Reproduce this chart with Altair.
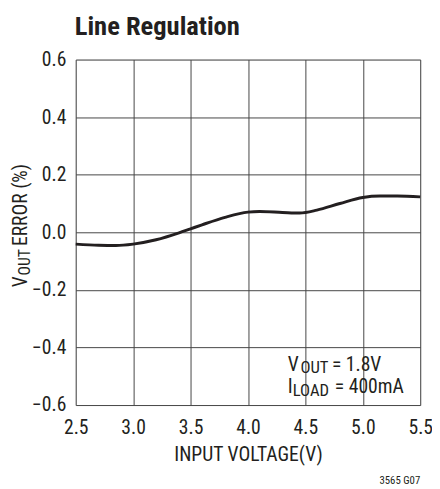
import altair as alt
import pandas as pd

# Data
vin = [2.5, 2.7, 2.85, 3.0, 3.2, 3.4, 3.5, 3.6, 3.8, 4.0, 4.1, 4.3, 4.45, 4.6, 4.8, 5.0, 5.15, 5.3, 5.5]
err = [-0.041, -0.045, -0.046, -0.041, -0.026, -0.002, 0.012, 0.026, 0.052, 0.070, 0.072, 0.069, 0.067, 0.077, 0.100, 0.121, 0.126, 0.126, 0.123]

x_ticks = [2.5, 3.0, 3.5, 4.0, 4.5, 5.0, 5.5]
y_ticks = [-0.6, -0.4, -0.2, 0.0, 0.2, 0.4, 0.6]

FONT = "Liberation Sans Narrow, Arial Narrow, Roboto Condensed, DejaVu Sans Condensed, sans-serif"
INK = "#231f20"

df = pd.DataFrame({"vin": vin, "err": err})
one = pd.DataFrame({"k": [0]})

W, H = 351, 352

line = alt.Chart(df).mark_line(color=INK, strokeWidth=3, interpolate="monotone").encode(
    x=alt.X("vin:Q", scale=alt.Scale(domain=[2.5, 5.5], nice=False, zero=False),
            axis=alt.Axis(values=x_ticks, format=".1f", title="INPUT VOLTAGE(V)",
                          ticks=False, labelPadding=13, titlePadding=8, domain=False,
                          labelFlush=False,
                          gridColor="#444", gridWidth=1, gridOpacity=1,
                          labelFont=FONT, labelFontSize=20, labelColor=INK,
                          titleFont=FONT, titleFontSize=20, titleFontWeight="normal", titleColor=INK)),
    y=alt.Y("err:Q", scale=alt.Scale(domain=[-0.6, 0.6], nice=False, zero=False),
            axis=alt.Axis(values=y_ticks, format=".1f", title=None,
                          ticks=False, labelPadding=10, domain=False,
                          labelFlush=False,
                          gridColor="#444", gridWidth=1, gridOpacity=1,
                          labelFont=FONT, labelFontSize=20, labelColor=INK)),
)


def txt(s, x, y, size, angle=0, align="left", weight="normal"):
    m = alt.Chart(one).mark_text(text=s, font=FONT, fontSize=size, color=INK, align=align,
                                 baseline="alphabetic", fontWeight=weight, angle=angle)
    return m.encode(x=alt.value(x), y=alt.value(y))


layers = [
    line,
    # title
    txt("Line Regulation", -1, -25, 27, weight="bold"),
    # y axis title, rotated, with subscript
    txt("V", -50, 232, 20, angle=270),
    txt("OUT", -47, 220, 16, angle=270),
    txt("ERROR (%)", -50, 190, 20, angle=270),
    # annotation
    txt("V", 216, 317, 20),
    txt("OUT", 229, 319, 17),
    txt("= 1.8V", 261, 317, 20),
    txt("I", 216, 340, 20),
    txt("LOAD", 221, 343, 17),
    txt("= 400mA", 264, 340, 20),
    # figure code
    txt("3565 G07", 351, 432, 11, align="right"),
]

chart = alt.layer(*layers).properties(
    width=W, height=H,
    autosize=alt.AutoSizeParams(type="none"),
    padding={"left": 69, "top": 48, "right": 12, "bottom": 81},
).configure_view(
    stroke=INK, strokeWidth=2
).configure(background="white")

chart.save("out.html", embed_options={"renderer": "svg", "actions": False})
